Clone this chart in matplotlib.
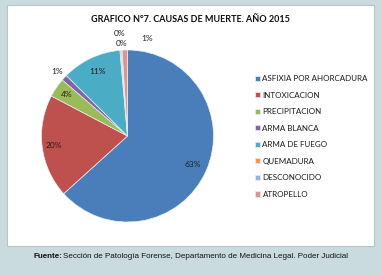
import numpy as np
import matplotlib
matplotlib.use("Agg")
import matplotlib.pyplot as plt
from matplotlib.patches import Rectangle

# Data
causes = ["ASFIXIA POR AHORCADURA", "INTOXICACION", "PRECIPITACION", "ARMA BLANCA",
          "ARMA DE FUEGO", "QUEMADURA", "DESCONOCIDO", "ATROPELLO"]
shares = [63.3, 19.4, 3.6, 1.1, 11.2, 0.2, 0.2, 1.0]
pct_labels = ["63%", "20%", "4%", "1%", "11%", "0%", "0%", "1%"]
colors = ["#4A7EBA", "#BE504D", "#9BBB59", "#8064A2", "#4BACC6", "#F79646", "#95B3D7", "#D99694"]

# label placement: (radius as fraction of pie radius, angle shift in degrees)
label_pos = [(0.83, 0), (0.86, 0), (0.85, 0), (1.11, 0), (0.83, 0),
             (1.2, 0), (1.08, 0), (1.15, -13)]

fig = plt.figure(figsize=(3.82, 2.75), dpi=100)
fig.patch.set_facecolor("#c9dbde")

# white chart panel, kept behind the pie axes
fig.patches.append(Rectangle((7 / 382, 1 - 246 / 275), 367 / 382, 241 / 275,
                             transform=fig.transFigure, facecolor="white",
                             edgecolor="#b8c4c8", linewidth=0.8, zorder=-5))

fig.text(190 / 382, 1 - 20 / 275, "GRAFICO N°7. CAUSAS DE MUERTE. AÑO 2015",
         ha="center", va="center", fontsize=6.5, fontweight="bold",
         family="Lato", color="#0d0d0d")

ax = fig.add_axes([(127.5 - 88) / 382, 1 - (136 + 88) / 275, 176 / 382, 176 / 275])
ax.patch.set_visible(False)
wedges, _ = ax.pie(shares, colors=colors, startangle=90, counterclock=False,
                   radius=86 / 88, wedgeprops=dict(edgecolor="#e8eef5", linewidth=0.5))
ax.set_xlim(-1, 1)
ax.set_ylim(-1, 1)
ax.set_aspect("equal")

for w, lab, (rf, shift) in zip(wedges, pct_labels, label_pos):
    ang = np.deg2rad((w.theta1 + w.theta2) / 2 + shift)
    r = w.r * rf
    ax.text(r * np.cos(ang), r * np.sin(ang), lab, ha="center", va="center",
            fontsize=6, family="Lato", color="#1f1f1f")

leg = fig.legend(wedges, causes, loc="upper left", bbox_to_anchor=(248 / 382, 1 - 68 / 275),
                 frameon=False, handlelength=0.6, handleheight=0.6,
                 handletextpad=0.3, labelspacing=1.18, prop={"family": "Lato", "size": 5.8})
for t in leg.get_texts():
    t.set_color("#1a1a1a")

fig.text(33 / 382, 1 - 257 / 275, "Fuente:", ha="left", va="center", fontsize=5.75,
         fontweight="bold", family="Liberation Sans", color="#111111")
fig.text(63 / 382, 1 - 257 / 275,
         "Sección de Patología Forense, Departamento de Medicina Legal. Poder Judicial",
         ha="left", va="center", fontsize=5.75, family="Liberation Sans", color="#111111")

fig.savefig("out.png", dpi=100, facecolor=fig.get_facecolor())
